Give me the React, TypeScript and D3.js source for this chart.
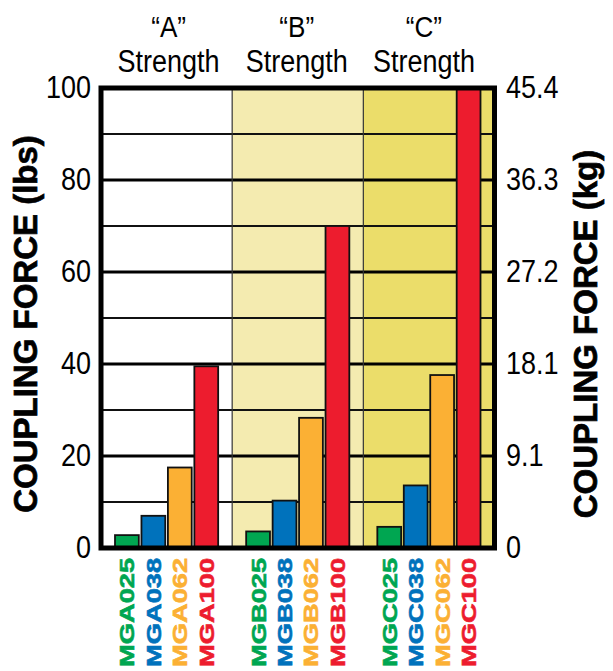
import React from "react";
import * as d3 from "d3";

const strengthKeys = ["A", "B", "C"];
const strengthLabels = ["\u201CA\u201D", "\u201CB\u201D", "\u201CC\u201D"];
const sizeCodes = ["025", "038", "062", "100"];
const valuesA = [2.8, 7.0, 17.5, 39.5];
const valuesB = [3.6, 10.3, 28.3, 70];
const valuesC = [4.6, 13.6, 37.6, 100];
const majorTicks = [0, 20, 40, 60, 80, 100];
const minorTicks = [10, 30, 50, 70, 90];
const kgTickLabels = ["0", "9.1", "18.1", "27.2", "36.3", "45.4"];
const sizeColors = ["#00A651", "#0072BC", "#FBB034", "#ED1C2E"];
const bandColors = ["#FFFFFF", "#F4EBB0", "#EBDD6A"];

const W = 613;
const H = 671;
const FONT = "'Liberation Sans', Arial, Helvetica, sans-serif";

export default function App() {
  const left = 101;
  const right = 494.5;
  const top = 88;
  const bottom = 548;

  const y = d3.scaleLinear().domain([0, 100]).range([bottom, top]);
  const xBand = d3.scaleBand<string>().domain(strengthKeys).range([left, right]).paddingInner(0);
  const bw = xBand.bandwidth();
  const inner = d3.scaleBand<string>().domain(sizeCodes).range([14, bw - 14]).paddingInner(0.1);

  const allValues = [valuesA, valuesB, valuesC];

  const cond = 0.87;

  return (
    <svg width={W} height={H} style={{ position: "absolute", left: 0, top: 0, background: "#fff" }} fontFamily={FONT}>
      {/* band backgrounds */}
      {strengthKeys.map((k, i) => (
        <rect key={"bg" + k} x={xBand(k)} y={top} width={bw} height={bottom - top} fill={bandColors[i]} />
      ))}
      {/* gridlines */}
      {minorTicks.map((t) => (
        <line key={"mn" + t} x1={left} x2={right} y1={y(t)} y2={y(t)} stroke="#111" strokeWidth={1.8} />
      ))}
      {majorTicks.map((t) => (
        <line key={"mj" + t} x1={left} x2={right} y1={y(t)} y2={y(t)} stroke="#000" strokeWidth={3} />
      ))}
      {/* band separators */}
      {strengthKeys.slice(1).map((k) => (
        <line key={"sep" + k} x1={xBand(k)} x2={xBand(k)} y1={top} y2={bottom} stroke="#333" strokeWidth={1.2} />
      ))}
      {/* bars */}
      {strengthKeys.map((k, i) =>
        sizeCodes.map((s, j) => {
          const x0 = (xBand(k) as number) + (inner(s) as number);
          const v = allValues[i][j];
          return (
            <rect
              key={k + s}
              x={x0}
              y={y(v)}
              width={inner.bandwidth()}
              height={y(0) - y(v)}
              fill={sizeColors[j]}
              stroke="#111"
              strokeWidth={1.8}
            />
          );
        })
      )}
      {/* frame */}
      <rect x={left} y={top} width={right - left} height={bottom - top} fill="none" stroke="#000" strokeWidth={5} />

      {/* left tick labels */}
      {majorTicks.map((t) => (
        <text
          key={"lt" + t}
          transform={`translate(91,${y(t) + 10}) scale(${cond},1)`}
          textAnchor="end"
          fontSize={31}
          fill="#000"
        >
          {t}
        </text>
      ))}
      {/* right tick labels */}
      {majorTicks.map((t, i) => (
        <text
          key={"rt" + t}
          transform={`translate(506,${y(t) + 10}) scale(${cond},1)`}
          textAnchor="start"
          fontSize={31}
          fill="#000"
        >
          {kgTickLabels[i]}
        </text>
      ))}

      {/* top strength labels */}
      {strengthKeys.map((k, i) => {
        const cx = (xBand(k) as number) + bw / 2 + (i === 0 ? 2 : i === 1 ? -1 : -5);
        return (
          <g key={"top" + k}>
            <text transform={`translate(${cx},37) scale(${cond},1)`} textAnchor="middle" fontSize={30} fill="#000">
              {strengthLabels[i]}
            </text>
            <text transform={`translate(${cx},71.5) scale(${cond},1)`} textAnchor="middle" fontSize={31} fill="#000">
              Strength
            </text>
          </g>
        );
      })}

      {/* axis titles */}
      <text
        transform={`translate(37,324) rotate(-90)`}
        textAnchor="middle"
        fontSize={33}
        fontWeight="bold"
        fill="#000"
        stroke="#000"
        strokeWidth={0.7}
      >
        COUPLING FORCE (lbs)
      </text>
      <text
        transform={`translate(597,334) rotate(-90)`}
        textAnchor="middle"
        fontSize={33}
        fontWeight="bold"
        fill="#000"
        stroke="#000"
        strokeWidth={0.7}
      >
        COUPLING FORCE (kg)
      </text>

      {/* product labels */}
      {strengthKeys.map((k, i) =>
        sizeCodes.map((s, j) => {
          const cx = (xBand(k) as number) + (inner(s) as number) + inner.bandwidth() / 2;
          return (
            <text
              key={"pl" + k + s}
              transform={`translate(${cx + 7.5},667) rotate(-90) scale(1.3,1)`}
              textAnchor="start"
              fontSize={21}
              fontWeight="bold"
              fill={sizeColors[j]}
              stroke={sizeColors[j]}
              strokeWidth={0.6}
            >
              {"MG" + k + s}
            </text>
          );
        })
      )}
    </svg>
  );
}
